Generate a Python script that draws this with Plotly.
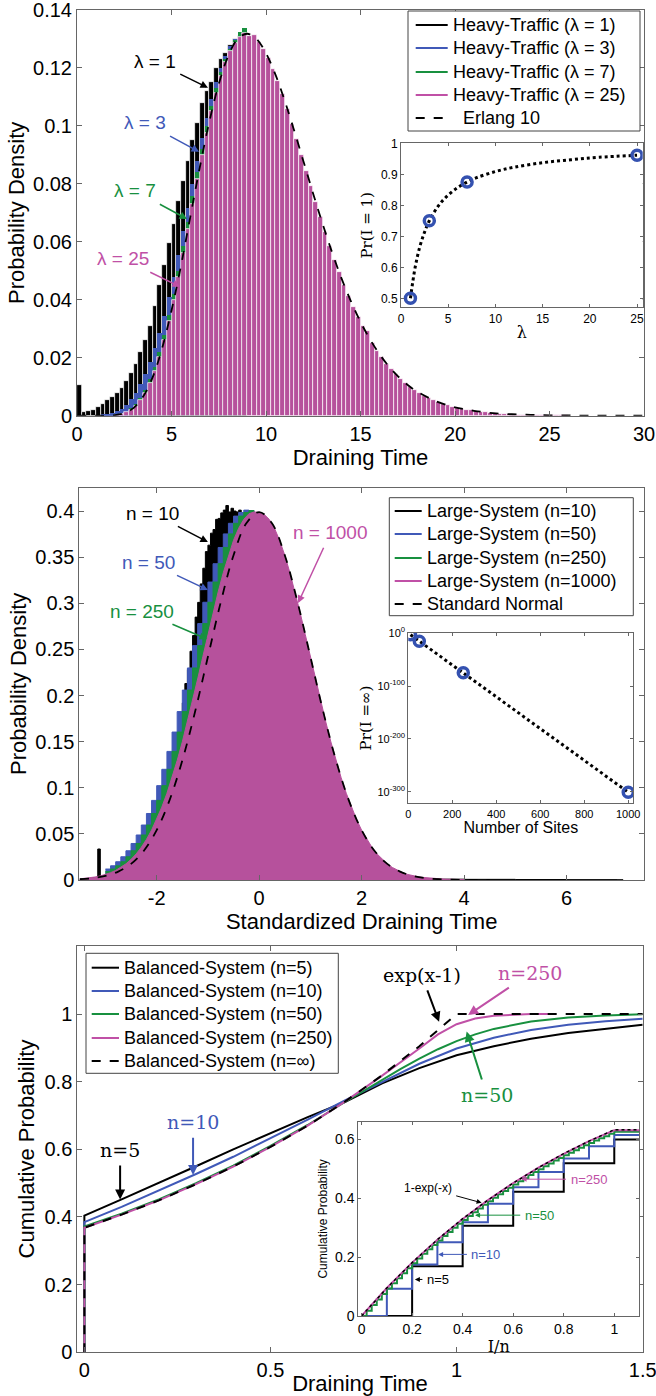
import plotly.graph_objects as go

SANS = "Liberation Sans, Arial, sans-serif"
SERIF = "DejaVu Serif, serif"
BLACK = "#000000"
BLUE = "#4059b8"
GREEN = "#18903f"
MAG = "#c050a6"
MAGFILL = "#b6519c"
AXC = "#666666"

# ---------------- Panel 1: heavy traffic histograms (bin width 0.25) ----------------
p1_bin = 0.25
p1_black_start = 0.125
p1_black = [0.0106, 0.0012, 0.0016, 0.0020, 0.0030, 0.0040, 0.0055, 0.0065, 0.0080, 0.0096,
            0.0120, 0.0146, 0.0180, 0.0220, 0.0262, 0.0310, 0.0380, 0.0450, 0.0520, 0.0595,
            0.0660, 0.0740, 0.0810, 0.0880, 0.0950, 0.1010, 0.1080, 0.1120, 0.1150, 0.1200,
            0.1230, 0.1250, 0.1280, 0.1300, 0.1310]
p1_blue_start = 1.375
p1_blue = [0.0003, 0.0005, 0.0009, 0.0015, 0.0024, 0.0038, 0.0057, 0.0080, 0.0108, 0.0143,
           0.0184, 0.0232, 0.0286, 0.0345, 0.0410, 0.0480, 0.0556, 0.0636, 0.0718, 0.0800,
           0.0880, 0.0957, 0.1028, 0.1093, 0.1150, 0.1200, 0.1240, 0.1275, 0.1300, 0.1315]
p1_green_start = 2.875
p1_green = [0.0025, 0.0040, 0.0062, 0.0090, 0.0125, 0.0168, 0.0220, 0.0280, 0.0348, 0.0420,
            0.0500, 0.0585, 0.0670, 0.0757, 0.0840, 0.0920, 0.0998, 0.1070, 0.1132, 0.1185,
            0.1230, 0.1265, 0.1295, 0.1325, 0.1338]
p1_mag_start = 2.125
p1_mag = [0.0003, 0.0006, 0.0012, 0.0021, 0.0034, 0.0054, 0.0079, 0.0113,
          0.0154, 0.0204, 0.0262, 0.0327, 0.0400, 0.0478, 0.0560, 0.0645,
          0.0731, 0.0817, 0.0899, 0.0977, 0.1050, 0.1115, 0.1172, 0.1220,
          0.1258, 0.1287, 0.1307, 0.1322, 0.1312, 0.1315, 0.1290, 0.1266,
          0.1234, 0.1198, 0.1156, 0.1109, 0.1060, 0.1008, 0.0955, 0.0901,
          0.0846, 0.0792, 0.0738, 0.0686, 0.0635, 0.0586, 0.0539, 0.0495,
          0.0452, 0.0413, 0.0375, 0.0340, 0.0308, 0.0292, 0.0250, 0.0225,
          0.0202, 0.0180, 0.0161, 0.0143, 0.0128, 0.0113, 0.0100, 0.0089,
          0.0078, 0.0069, 0.0061, 0.0053, 0.0047, 0.0041, 0.0036, 0.0031,
          0.0027, 0.0024, 0.0021, 0.0018, 0.0015, 0.0013, 0.0012, 0.0010,
          0.0009, 0.0007, 0.0006, 0.0006, 0.0005, 0.0004, 0.0003, 0.0003,
          0.0003, 0.0002, 0.0002, 0.0002, 0.0001, 0.0001, 0.0001, 0.0001]
erlang_x = [0, 1, 2, 2.5, 3, 3.5, 4, 4.5, 5, 5.5, 6, 6.5, 7, 7.5, 8, 8.5, 9, 9.5, 10, 10.5,
            11, 11.5, 12, 12.5, 13, 13.5, 14, 14.5, 15, 15.5, 16, 16.5, 17, 17.5, 18, 19, 20,
            21, 22, 23, 24, 25, 26, 27, 28, 29, 30]
erlang_y = [0.0, 0.000001, 0.00019, 0.00086, 0.0027, 0.0066, 0.0132, 0.0232, 0.0363, 0.0517,
            0.0688, 0.0858, 0.1014, 0.1144, 0.1241, 0.1300, 0.1318, 0.1300, 0.1251, 0.1177,
            0.1085, 0.0982, 0.0874, 0.0765, 0.0661, 0.0563, 0.0473, 0.0394, 0.0324, 0.0264,
            0.0213, 0.0170, 0.0135, 0.0106, 0.0083, 0.0050, 0.0029, 0.0017, 0.0009, 0.0005,
            0.0003, 0.00014, 0.00007, 0.00004, 0.00002, 0.00001, 0.0]
legend1_labels = ["Heavy-Traffic (λ = 1)", "Heavy-Traffic (λ = 3)", "Heavy-Traffic (λ = 7)",
                  "Heavy-Traffic (λ = 25)", "  Erlang 10"]
# inset 1
lam_curve_x = [1, 1.5, 2, 2.5, 3, 4, 5, 6, 7, 8, 10, 12, 15, 18, 21, 25]
lam_curve_y = [0.5, 0.6, 0.667, 0.714, 0.75, 0.8, 0.833, 0.857, 0.875, 0.889, 0.909, 0.923,
               0.9375, 0.947, 0.955, 0.9615]
lam_pts = [1, 3, 7, 25]
pr1_pts = [0.5, 0.75, 0.875, 0.9615]

# ---------------- Panel 2: large system (standardized) ----------------
p2_black_start, p2_black_step = -3.5, 0.05
p2_black_left = [0.0010, 0.0012, 0.0015, 0.0017, 0.0020, 0.0024, 0.0028, 0.0336, 0.0038, 0.0043,
                 0.0050, 0.0056, 0.0063, 0.0072, 0.0082, 0.0094, 0.0107, 0.0124, 0.0142, 0.0170,
                 0.0215, 0.0270, 0.0330, 0.0395, 0.0450, 0.0505, 0.0570, 0.0660, 0.0720, 0.0780,
                 0.0860, 0.0920, 0.1010, 0.1080, 0.1150, 0.1260, 0.1330, 0.1450, 0.1580, 0.1730,
                 0.1920, 0.2130, 0.2280, 0.2480, 0.2650, 0.2850, 0.3010, 0.3210, 0.3380, 0.3560,
                 0.3630, 0.3760, 0.3800, 0.3910, 0.3920, 0.3980, 0.4010, 0.4060, 0.3990, 0.4030,
                 0.4000, 0.3990, 0.4010, 0.3960, 0.3980, 0.3950, 0.3900]
p2_black_right_x = [-0.15, 0.0, 0.25, 0.5, 0.75, 1.0, 1.25, 1.5, 1.75, 2.0, 2.5, 3.0, 3.5, 4.0,
                    5.0, 6.0, 7.0, 7.1]
p2_black_right = [0.390, 0.380, 0.345, 0.296, 0.236, 0.176, 0.124, 0.082, 0.050, 0.016, 0.004,
                  0.0012, 0.0009, 0.0007, 0.0005, 0.0004, 0.0003, 0.0]
p2_side_start, p2_side_step = -3.0, 0.1
p2_blue = [0.0119, 0.0154, 0.0198, 0.0252, 0.0317, 0.0396, 0.0488, 0.0596, 0.0721, 0.0863,
           0.1023, 0.1200, 0.1394, 0.1604, 0.1826, 0.2059, 0.2299, 0.2541, 0.2780, 0.3011,
           0.3230, 0.3429, 0.3605, 0.3752, 0.3867, 0.3945, 0.3984, 0.4010, 0.4005, 0.3990]
p2_green = [0.0091, 0.0119, 0.0154, 0.0198, 0.0252, 0.0317, 0.0396, 0.0488, 0.0596, 0.0721,
            0.0863, 0.1023, 0.1200, 0.1394, 0.1604, 0.1826, 0.2059, 0.2299, 0.2541, 0.2780,
            0.3011, 0.3230, 0.3429, 0.3605, 0.3752, 0.3867, 0.3945, 0.3984, 0.4005, 0.3990]
p2_mag_start, p2_mag_step = -3.5, 0.1
p2_mag = [0.0012, 0.0017, 0.0024, 0.0033, 0.0044, 0.0060, 0.0079, 0.0104, 0.0136, 0.0175,
          0.0224, 0.0283, 0.0355, 0.0440, 0.0540, 0.0656, 0.0790, 0.0940, 0.1109, 0.1295,
          0.1497, 0.1714, 0.1942, 0.2179, 0.2420, 0.2661, 0.2897, 0.3123, 0.3332, 0.3521,
          0.3683, 0.3814, 0.3910, 0.3970, 0.3990, 0.3985, 0.3962, 0.3908, 0.3812, 0.3681,
          0.3520, 0.3331, 0.3122, 0.2897, 0.2661, 0.2420, 0.2179, 0.1942, 0.1714, 0.1497,
          0.1295, 0.1109, 0.0940, 0.0790, 0.0656, 0.0540, 0.0440, 0.0355, 0.0283, 0.0224,
          0.0175, 0.0136, 0.0104, 0.0079, 0.0060, 0.0046, 0.0036, 0.0028, 0.0022, 0.0017,
          0.0013, 0.0010, 0.0008, 0.0006, 0.0005, 0.0004]
norm_x = [-3.5, -3.25, -3.0, -2.75, -2.5, -2.25, -2.0, -1.75, -1.5, -1.25, -1.0, -0.75, -0.5,
          -0.25, 0.0, 0.25, 0.5, 0.75, 1.0, 1.25, 1.5, 1.75, 2.0, 2.25, 2.5, 2.75, 3.0, 3.25,
          3.5, 3.75, 4.0, 4.25, 4.5]
norm_y = [0.0009, 0.0020, 0.0044, 0.0091, 0.0175, 0.0317, 0.0540, 0.0863, 0.1295, 0.1826,
          0.2420, 0.3011, 0.3521, 0.3867, 0.3989, 0.3867, 0.3521, 0.3011, 0.2420, 0.1826,
          0.1295, 0.0863, 0.0540, 0.0317, 0.0175, 0.0091, 0.0044, 0.0020, 0.0009, 0.0004,
          0.0001, 0.0, 0.0]
legend2_labels = ["Large-System (n=10)", "Large-System (n=50)", "Large-System (n=250)",
                  "Large-System (n=1000)", "Standard Normal"]
# inset 2
sites = [10, 50, 250, 1000]
pr_inf = [1e-3, 1e-15, 1e-75, 1e-301]

# ---------------- Panel 3: balanced system CDFs ----------------
cdf5_x = [0, 0, 0.1, 0.2, 0.3, 0.4, 0.5, 0.6, 0.7, 0.8, 0.9, 1.0, 1.1, 1.2, 1.3, 1.4, 1.5]
cdf5_y = [0, 0.404, 0.452, 0.50, 0.55, 0.60, 0.648, 0.695, 0.74, 0.795, 0.84, 0.878, 0.905,
          0.927, 0.944, 0.957, 0.968]
cdf10_x = [0, 0, 0.1, 0.2, 0.3, 0.4, 0.5, 0.6, 0.7, 0.8, 0.9, 1.0, 1.1, 1.2, 1.3, 1.4, 1.5]
cdf10_y = [0, 0.385, 0.430, 0.478, 0.527, 0.578, 0.632, 0.688, 0.745, 0.80, 0.853, 0.898,
           0.930, 0.953, 0.968, 0.979, 0.986]
cdf50_x = [0, 0, 0.1, 0.2, 0.3, 0.4, 0.5, 0.6, 0.7, 0.75, 0.8, 0.85, 0.9, 0.95, 1.0, 1.05,
           1.1, 1.15, 1.2, 1.3, 1.4, 1.5]
cdf50_y = [0, 0.372, 0.41, 0.452, 0.50, 0.552, 0.61, 0.672, 0.74, 0.773, 0.805, 0.838, 0.868,
           0.896, 0.92, 0.94, 0.956, 0.968, 0.978, 0.99, 0.996, 0.999]
cdf250_x = [0, 0, 0.1, 0.2, 0.3, 0.4, 0.5, 0.6, 0.7, 0.8, 0.9, 0.95, 1.0, 1.05, 1.1, 1.15,
            1.2, 1.25]
cdf250_y = [0, 0.368, 0.407, 0.449, 0.497, 0.549, 0.607, 0.670, 0.741, 0.818, 0.898, 0.940,
            0.970, 0.987, 0.995, 0.998, 1.0, 1.0]
cdfinf_x = [0, 0, 0.1, 0.2, 0.3, 0.4, 0.5, 0.6, 0.7, 0.8, 0.9, 1.0, 1.5]
cdfinf_y = [0, 0.368, 0.407, 0.449, 0.497, 0.549, 0.607, 0.670, 0.741, 0.819, 0.905, 1.0, 1.0]
legend3_labels = ["Balanced-System (n=5)", "Balanced-System (n=10)", "Balanced-System (n=50)",
                  "Balanced-System (n=250)", "Balanced-System (n=∞)"]
# inset 3 (I/n)
st5_x = [0, 0.2, 0.4, 0.6, 0.8, 1.0, 1.1]
st5_y = [0, 0.169, 0.306, 0.421, 0.518, 0.599, 0.599]
st10_x = [0, 0.1, 0.2, 0.3, 0.4, 0.5, 0.6, 0.7, 0.8, 0.9, 1.0, 1.1]
st10_y = [0, 0.092, 0.175, 0.250, 0.318, 0.381, 0.437, 0.488, 0.534, 0.576, 0.614, 0.614]
st50_step = 0.02
st50_y = [0, 0.018, 0.037, 0.056, 0.075, 0.093, 0.111, 0.128, 0.145, 0.162, 0.179, 0.195,
          0.211, 0.226, 0.241, 0.256, 0.271, 0.285, 0.299, 0.313, 0.326, 0.339, 0.352, 0.365,
          0.377, 0.389, 0.401, 0.413, 0.424, 0.435, 0.446, 0.457, 0.467, 0.478, 0.488, 0.498,
          0.508, 0.517, 0.527, 0.536, 0.545, 0.554, 0.562, 0.571, 0.579, 0.587, 0.595, 0.603,
          0.610, 0.618, 0.625]
st250_x = [0, 0.1, 0.2, 0.3, 0.4, 0.5, 0.6, 0.7, 0.8, 0.9, 1.0, 1.1]
st250_y = [0, 0.095, 0.181, 0.259, 0.329, 0.393, 0.451, 0.503, 0.550, 0.593, 0.630, 0.630]
expm_x = [0, 0.1, 0.2, 0.3, 0.4, 0.5, 0.6, 0.7, 0.8, 0.9, 1.0, 1.1]
expm_y = [0, 0.095, 0.181, 0.259, 0.330, 0.393, 0.451, 0.503, 0.551, 0.593, 0.632, 0.632]

SERIES_COLORS = [BLACK, BLUE, GREEN, MAG, BLACK]
SERIES_DASH = ["solid", "solid", "solid", "solid", "dash"]


def centers(start, step, vals):
    return [start + i * step for i in range(len(vals))]


fig = go.Figure()

# ---- panel 1 bars ----
for start, vals, col, lw in [(p1_black_start, p1_black, BLACK, 0.7),
                             (p1_blue_start, p1_blue, BLUE, 0),
                             (p1_green_start, p1_green, GREEN, 0),
                             (p1_mag_start, p1_mag, MAGFILL, 0.7)]:
    fig.add_trace(go.Bar(x=centers(start, p1_bin, vals), y=vals, width=p1_bin,
                         marker=dict(color=col, line=dict(color="white", width=lw)),
                         xaxis="x", yaxis="y", showlegend=False, hoverinfo="skip"))
fig.add_trace(go.Scatter(x=erlang_x, y=erlang_y, mode="lines", showlegend=False,
                         line=dict(color=BLACK, width=1.8, dash="dash", shape="spline"),
                         xaxis="x", yaxis="y"))
# inset 1
fig.add_trace(go.Scatter(x=lam_curve_x, y=lam_curve_y, mode="lines", showlegend=False,
                         line=dict(color=BLACK, width=3, dash="dot", shape="spline"),
                         xaxis="x4", yaxis="y4"))
fig.add_trace(go.Scatter(x=lam_pts, y=pr1_pts, mode="markers", showlegend=False,
                         marker=dict(symbol="circle-open", size=10, color="#3451b0",
                                     line=dict(width=3.5, color="#3451b0")),
                         xaxis="x4", yaxis="y4"))

# ---- panel 2 areas ----
fig.add_trace(go.Scatter(x=centers(p2_black_start, p2_black_step, p2_black_left) + p2_black_right_x,
                         y=p2_black_left + p2_black_right, mode="lines", fill="tozeroy",
                         fillcolor=BLACK, line=dict(color=BLACK, width=1, shape="hv"),
                         xaxis="x2", yaxis="y2", showlegend=False, hoverinfo="skip"))
for vals, col in [(p2_blue, BLUE), (p2_green, GREEN)]:
    fig.add_trace(go.Scatter(x=centers(p2_side_start, p2_side_step, vals), y=vals, mode="lines",
                             fill="tozeroy", fillcolor=col, line=dict(color=col, width=1, shape="hv"),
                             xaxis="x2", yaxis="y2", showlegend=False, hoverinfo="skip"))
fig.add_trace(go.Scatter(x=centers(p2_mag_start, p2_mag_step, p2_mag), y=p2_mag, mode="lines",
                         fill="tozeroy", fillcolor=MAGFILL, line=dict(color=MAGFILL, width=1),
                         xaxis="x2", yaxis="y2", showlegend=False, hoverinfo="skip"))
fig.add_trace(go.Scatter(x=norm_x, y=norm_y, mode="lines", showlegend=False,
                         line=dict(color=BLACK, width=1.8, dash="dash", shape="spline"),
                         xaxis="x2", yaxis="y2"))
# inset 2
fig.add_trace(go.Scatter(x=sites, y=pr_inf, mode="lines", showlegend=False,
                         line=dict(color=BLACK, width=3, dash="dot"), xaxis="x5", yaxis="y5"))
fig.add_trace(go.Scatter(x=sites, y=pr_inf, mode="markers", showlegend=False,
                         marker=dict(symbol="circle-open", size=10, color="#3451b0",
                                     line=dict(width=3.5, color="#3451b0")),
                         xaxis="x5", yaxis="y5"))

# ---- panel 3 ----
for xs, ys, col, dash in zip([cdf5_x, cdf10_x, cdf50_x, cdf250_x, cdfinf_x],
                             [cdf5_y, cdf10_y, cdf50_y, cdf250_y, cdfinf_y],
                             SERIES_COLORS, SERIES_DASH):
    fig.add_trace(go.Scatter(x=xs, y=ys, mode="lines", showlegend=False,
                             line=dict(color=col, width=2, dash=dash), xaxis="x3", yaxis="y3"))
# inset 3
fig.add_trace(go.Scatter(x=st5_x, y=st5_y, mode="lines", showlegend=False,
                         line=dict(color=BLACK, width=2, shape="hv"), xaxis="x6", yaxis="y6"))
fig.add_trace(go.Scatter(x=st10_x, y=st10_y, mode="lines", showlegend=False,
                         line=dict(color=BLUE, width=2, shape="hv"), xaxis="x6", yaxis="y6"))
fig.add_trace(go.Scatter(x=centers(0, st50_step, st50_y) + [1.1], y=st50_y + [st50_y[-1]],
                         mode="lines", showlegend=False,
                         line=dict(color=GREEN, width=2, shape="hv"), xaxis="x6", yaxis="y6"))
fig.add_trace(go.Scatter(x=st250_x, y=st250_y, mode="lines", showlegend=False,
                         line=dict(color=MAG, width=2), xaxis="x6", yaxis="y6"))
fig.add_trace(go.Scatter(x=expm_x, y=expm_y, mode="lines", showlegend=False,
                         line=dict(color=BLACK, width=1.5, dash="dot"), xaxis="x6", yaxis="y6"))


def axis(domain, rng, anchor, size=20, tl=5, **kw):
    d = dict(domain=domain, range=rng, anchor=anchor, showline=True, linecolor=AXC, linewidth=1,
             mirror="ticks", ticks="inside", ticklen=tl, tickcolor=AXC, showgrid=False,
             zeroline=False, automargin=False, ticklabeloverflow="allow",
             tickfont=dict(family=SANS, size=size, color="black"))
    d.update(kw)
    return d


def ttl(text, size=22, family=SANS, standoff=2):
    return dict(text=text, font=dict(family=family, size=size, color="black"), standoff=standoff)


H = 1396.0
W = 656.0


def dx(a, b):
    return [a / W, b / W]


def dy(top, bottom):
    return [1 - bottom / H, 1 - top / H]


layout = dict(
    width=656, height=1396, margin=dict(l=0, r=0, t=0, b=0, autoexpand=False),
    paper_bgcolor="white", plot_bgcolor="white", barmode="overlay", bargap=0, showlegend=False,
    font=dict(family=SANS, color="black"),
    xaxis=axis(dx(77, 644), [0, 30], "y", dtick=5, title=ttl("Draining Time")),
    yaxis=axis(dy(10, 415.7), [0, 0.14], "x", dtick=0.02, title=ttl("Probability Density", standoff=2)),
    xaxis2=axis(dx(79.3, 644), [-3.51, 7.51], "y2", tickvals=[-2, 0, 2, 4, 6],
                ticktext=["-2", "0", "2", "4", "6"], title=ttl("Standardized Draining Time", standoff=0)),
    yaxis2=axis(dy(487.7, 880), [0, 0.4253], "x2", dtick=0.05, title=ttl("Probability Density", standoff=2)),
    xaxis3=axis(dx(77.3, 642.7), [-0.019, 1.5], "y3", dtick=0.5, title=ttl("Draining Time", standoff=0)),
    yaxis3=axis(dy(945.7, 1352.3), [0, 1.202], "x3", tickvals=[0, 0.2, 0.4, 0.6, 0.8, 1],
                title=ttl("Cumulative Probability", standoff=3)),
    xaxis4=axis(dx(401, 642.7), [0, 25.6], "y4", size=12, tl=3, dtick=5,
                title=ttl("λ", size=16, family=SERIF, standoff=2)),
    yaxis4=axis(dy(143.3, 307.3), [0.471, 1.0], "x4", size=12, tl=3, dtick=0.1,
                title=ttl("Pr(I = 1)", size=15, family=SERIF, standoff=4)),
    xaxis5=axis(dx(408.3, 633.3), [0, 1023], "y5", size=11, tl=3, dtick=200,
                title=ttl("Number of Sites", size=16, standoff=2)),
    yaxis5=axis(dy(632.7, 803.3), [-322, 1], "x5", size=11, tl=3, type="log",
                tickvals=[1, 1e-100, 1e-200, 1e-300],
                ticktext=["10<sup>0</sup>", "10<sup>-100</sup>", "10<sup>-200</sup>", "10<sup>-300</sup>"],
                title=ttl("Pr(I =∞)", size=15, family=SERIF, standoff=2)),
    xaxis6=axis(dx(358.3, 639.3), [-0.013, 1.099], "y6", size=14, tl=3, dtick=0.2,
                title=ttl("I/n", size=16, family=SERIF, standoff=0)),
    yaxis6=axis(dy(1121.7, 1316), [0, 0.659], "x6", size=14, tl=3, dtick=0.2,
                title=ttl("Cumulative Probability", size=12, standoff=4)),
)


def lab(tx, ty, text, color, size, xr, yr, hx=None, hy=None, family=SANS, width=1.5):
    """Label centred at (tx, ty); if (hx, hy) given, an arrow from the label to that point."""
    d = dict(x=tx, y=ty, xref=xr, yref=yr, text=text, xanchor="center", yanchor="middle",
             font=dict(family=family, size=size, color=color), showarrow=False)
    if hx is not None:
        d.update(x=hx, y=hy, ax=tx, ay=ty, axref=xr, ayref=yr, showarrow=True, arrowhead=2,
                 arrowsize=1, arrowwidth=width, arrowcolor=color, startstandoff=3)
    return d


ann = [
    lab(4.13, 0.1221, "λ = 1", BLACK, 19, "x", "y", 6.93, 0.1132),
    lab(3.60, 0.1011, "λ = 3", BLUE, 19, "x", "y", 6.46, 0.0911),
    lab(3.07, 0.0776, "λ = 7", GREEN, 19, "x", "y", 5.82, 0.0679),
    lab(2.43, 0.0541, "λ = 25", MAG, 19, "x", "y", 5.45, 0.0445),
    lab(-2.09, 0.3978, "n = 10", BLACK, 19, "x2", "y2", -1.00, 0.3664),
    lab(-2.15, 0.3447, "n = 50", BLUE, 19, "x2", "y2", -1.00, 0.3144),
    lab(-2.29, 0.2916, "n = 250", GREEN, 19, "x2", "y2", -1.02, 0.2612),
    lab(1.39, 0.3762, "n = 1000", MAG, 19, "x2", "y2", 0.76, 0.3003),
    lab(0.096, 0.598, "n=5", BLACK, 19, "x3", "y3", 0.096, 0.452, family=SERIF, width=2),
    lab(0.292, 0.680, "n=10", BLUE, 19, "x3", "y3", 0.292, 0.524, family=SERIF, width=2),
    lab(0.906, 1.115, "exp(x-1)", BLACK, 19, "x3", "y3", 0.953, 0.977, family=SERIF, width=2),
    lab(1.197, 1.120, "n=250", MAG, 19, "x3", "y3", 1.031, 0.997, family=SERIF, width=2),
    lab(1.081, 0.761, "n=50", GREEN, 19, "x3", "y3", 1.027, 0.948, family=SERIF, width=2),
    lab(0.262, 0.434, "1-exp(-x)", BLACK, 12, "x6", "y6", 0.475, 0.384, width=1),
    lab(0.900, 0.464, "n=250", MAG, 13, "x6", "y6", 0.633, 0.464, width=1),
    lab(0.703, 0.342, "n=50", GREEN, 13, "x6", "y6", 0.449, 0.342, width=1),
    lab(0.492, 0.209, "n=10", BLUE, 13, "x6", "y6", 0.303, 0.209, width=1),
    lab(0.302, 0.124, "n=5", BLACK, 13, "x6", "y6", 0.211, 0.124, width=1),
]

# ---- legends drawn as boxes, line samples and text (paper coordinates, px -> fraction) ----
shapes = []


def legend_box(labels, box, rows, line_x, text_x, size=18):
    left, top, right, bottom = box
    shapes.append(dict(type="rect", xref="paper", yref="paper", x0=left / W, x1=right / W,
                       y0=1 - bottom / H, y1=1 - top / H, line=dict(color="#444", width=1),
                       fillcolor="white", layer="above"))
    for lbl, row, col, dash in zip(labels, rows, SERIES_COLORS, SERIES_DASH):
        shapes.append(dict(type="line", xref="paper", yref="paper", x0=line_x[0] / W,
                           x1=line_x[1] / W, y0=1 - row / H, y1=1 - row / H,
                           line=dict(color=col, width=2 if dash == "solid" else 1.8, dash=dash),
                           layer="above"))
        ann.append(dict(x=text_x / W, y=1 - row / H, xref="paper", yref="paper",
                        text=lbl.replace("  ", "\u00a0\u00a0"), showarrow=False, xanchor="left",
                        yanchor="middle", font=dict(family=SANS, size=size, color="black")))


legend_box(legend1_labels, (408, 11, 640, 131), [25, 48, 72, 95, 118], (415.7, 447.7), 451)
legend_box(legend2_labels, (389.3, 497.7, 633.3, 615.7), [511, 534, 558, 581, 604], (394.7, 421.7), 425)
legend_box(legend3_labels, (86, 953.3, 338.3, 1073.3), [967.7, 991, 1014, 1038, 1061], (91.7, 119), 122)

layout["annotations"] = ann
layout["shapes"] = shapes
fig.update_layout(**layout)
fig.write_html("out.html")
